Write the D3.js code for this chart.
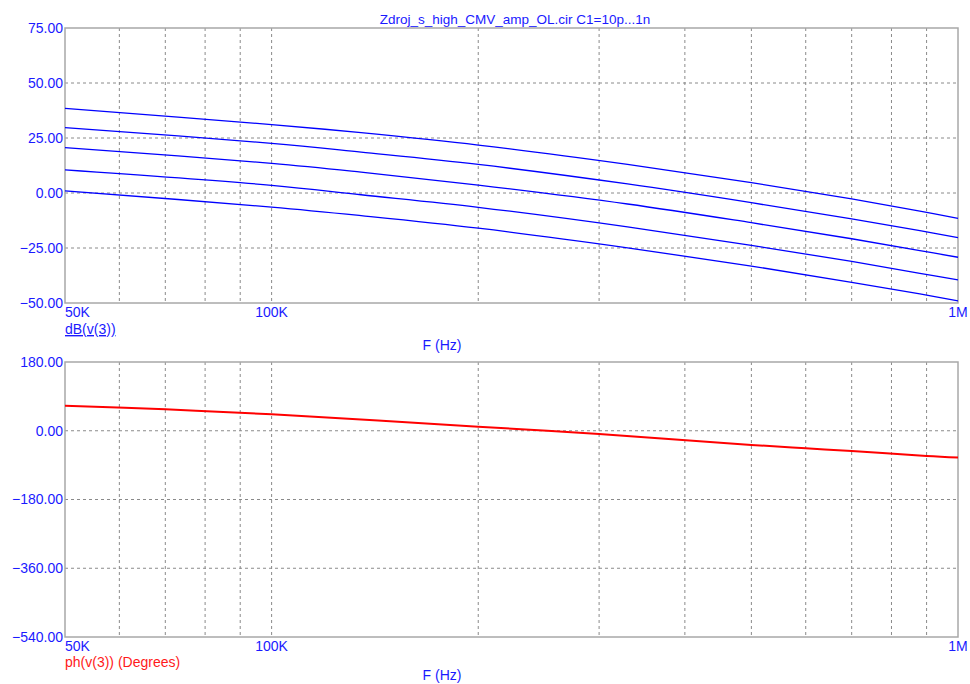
<!DOCTYPE html>
<html>
<head>
<meta charset="utf-8">
<script src="https://cdn.jsdelivr.net/npm/d3@7"></script>
<style>
  body { margin: 0; background: #fff; }
  svg text { font-family: "Liberation Sans", Arial, sans-serif; }
</style>
</head>
<body>
<div id="chart"></div>
<script>
// Data
const freqs = [50e3, 100e3, 135e3, 200e3, 330e3, 500e3, 700e3, 880e3, 1e6];
const dbC1 = [38.5, 31.1, 27.4, 21.8, 13.0, 4.7, -2.7, -8.2, -11.5];
const dbC2 = [29.7, 22.6, 18.6, 13.0, 4.1, -4.4, -11.8, -17.1, -20.3];
const dbC3 = [20.6, 13.5, 9.5, 3.6, -5.0, -13.5, -20.8, -26.2, -29.2];
const dbC4 = [10.5, 3.5, -0.8, -6.5, -15.4, -23.8, -31.1, -36.5, -39.5];
const dbC5 = [1.0, -6.4, -10.3, -16.0, -24.9, -33.2, -40.6, -45.9, -49.0];
const phFreqs = [50e3, 70e3, 100e3, 200e3, 300e3, 500e3, 600e3, 700e3, 900e3, 1e6];
const phDeg = [65.6, 56, 43, 10.6, -8.5, -37, -46, -53, -66, -70];

const xTickVals = [50e3, 100e3, 1e6];
const xTickText = ['50K', '100K', '1M'];
const xGridVals = [60e3, 70e3, 80e3, 90e3, 100e3, 200e3, 300e3, 400e3, 500e3, 600e3, 700e3, 800e3, 900e3];
const dbTicks = [75, 50, 25, 0, -25, -50];
const phTicks = [180, 0, -180, -360, -540];

const title = 'Zdroj_s_high_CMV_amp_OL.cir C1=10p...1n';
const blue = '#1a1aff';

// Dimensions
const margin = { left: 65, right: 12 };
const width = 970 - margin.left - margin.right;
const magPlot = { y: 28, h: 275 };
const phPlot = { y: 362, h: 275 };

const svg = d3.select('#chart')
    .append('svg')
    .attr('width', 970)
    .attr('height', 684);

const xScale = d3.scaleLog().domain([50e3, 1e6]).range([0, width]);

// Title
svg.append('text')
    .attr('x', 515).attr('y', 24)
    .attr('text-anchor', 'middle')
    .attr('font-size', 13.5)
    .attr('fill', blue)
    .text(title);

const drawPanel = (panel, yDomain, yTicks, gridTicks) => {
    const g = svg.append('g')
        .attr('transform', `translate(${margin.left}, ${panel.y})`);
    const yScale = d3.scaleLinear().domain(yDomain).range([panel.h, 0]);

    // vertical grid
    g.selectAll('.vgrid')
        .data(xGridVals)
        .join('line')
            .attr('x1', d => xScale(d)).attr('x2', d => xScale(d))
            .attr('y1', 0).attr('y2', panel.h)
            .attr('stroke', '#8a8a8a')
            .attr('stroke-dasharray', '3,3');

    // horizontal grid
    g.selectAll('.hgrid')
        .data(gridTicks)
        .join('line')
            .attr('x1', 0).attr('x2', width)
            .attr('y1', d => yScale(d)).attr('y2', d => yScale(d))
            .attr('stroke', '#8a8a8a')
            .attr('stroke-dasharray', '3,3');

    // frame
    g.append('rect')
        .attr('width', width).attr('height', panel.h)
        .attr('fill', 'none')
        .attr('stroke', '#a8a8a8')
        .attr('stroke-width', 1.5);

    // y axis labels
    const yAxis = d3.axisLeft(yScale)
        .tickValues(yTicks)
        .tickSize(0)
        .tickPadding(2)
        .tickFormat(d3.format('.2f'));
    g.append('g')
        .call(yAxis)
        .call(a => a.select('.domain').remove())
        .selectAll('text')
            .attr('fill', blue)
            .attr('font-size', 14)
            .attr('font-family', '"Liberation Sans", Arial, sans-serif');

    // x axis labels
    g.selectAll('.xlab')
        .data(xTickVals)
        .join('text')
            .attr('x', d => xScale(d))
            .attr('y', panel.h + 14)
            .attr('text-anchor', (d, i) => i === 0 ? 'start' : 'middle')
            .attr('font-size', 14)
            .attr('fill', blue)
            .text((d, i) => xTickText[i]);

    return { g, yScale };
};

// Magnitude panel
const mag = drawPanel(magPlot, [-50, 75], dbTicks, [50, 25, 0, -25]);
const dbSeries = [dbC1, dbC2, dbC3, dbC4, dbC5];
const dbLine = d3.line()
    .x((d, i) => xScale(freqs[i]))
    .y(d => mag.yScale(d))
    .curve(d3.curveCatmullRom.alpha(0.5));
mag.g.selectAll('.mag')
    .data(dbSeries)
    .join('path')
        .attr('fill', 'none')
        .attr('stroke', '#0000ff')
        .attr('stroke-width', 1.3)
        .attr('d', d => dbLine(d));

svg.append('text')
    .attr('x', margin.left).attr('y', 334)
    .attr('font-size', 14)
    .attr('fill', blue)
    .attr('text-decoration', 'underline')
    .text('dB(v(3))');
svg.append('text')
    .attr('x', 442).attr('y', 350)
    .attr('text-anchor', 'middle')
    .attr('font-size', 14)
    .attr('fill', blue)
    .text('F (Hz)');

// Phase panel
const ph = drawPanel(phPlot, [-540, 180], phTicks, [0, -180, -360]);
const phLine = d3.line()
    .x((d, i) => xScale(phFreqs[i]))
    .y(d => ph.yScale(d))
    .curve(d3.curveCatmullRom.alpha(0.5));
ph.g.append('path')
    .attr('fill', 'none')
    .attr('stroke', '#ff0000')
    .attr('stroke-width', 2)
    .attr('d', phLine(phDeg));

svg.append('text')
    .attr('x', margin.left).attr('y', 667)
    .attr('font-size', 14)
    .attr('fill', '#ff1a1a')
    .text('ph(v(3)) (Degrees)');
svg.append('text')
    .attr('x', 442).attr('y', 680)
    .attr('text-anchor', 'middle')
    .attr('font-size', 14)
    .attr('fill', blue)
    .text('F (Hz)');
</script>
</body>
</html>
